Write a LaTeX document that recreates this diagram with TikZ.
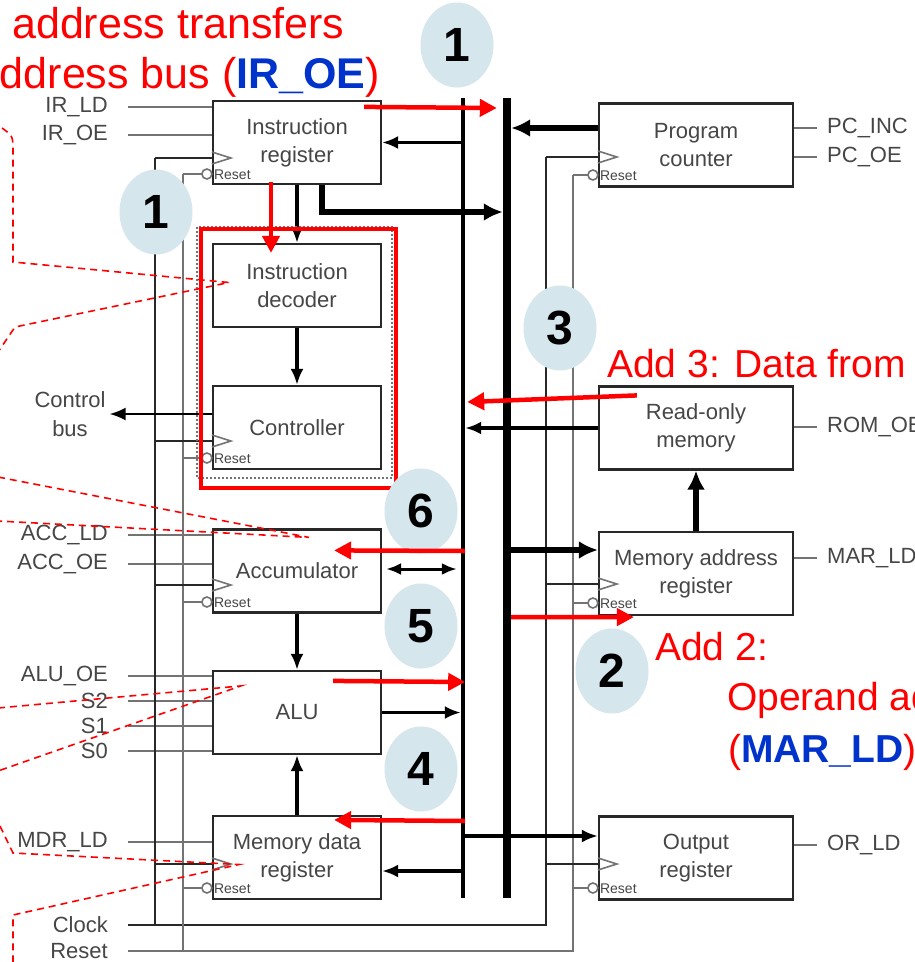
\documentclass[tikz,border=0pt]{standalone}
\usepackage{fontspec}
\setmainfont{Liberation Sans}
\usepackage{tikz}
\usetikzlibrary{arrows.meta, positioning, calc, shapes.geometric}
\definecolor{CpuRed}{RGB}{255, 0, 0}
\definecolor{CpuBlue}{RGB}{0, 51, 204}
\definecolor{CpuBubble}{RGB}{213, 230, 237}
\definecolor{CpuEdge}{RGB}{40, 40, 40}
\definecolor{CpuText}{RGB}{70, 70, 70}
\definecolor{CpuWire}{RGB}{115, 115, 115}
\tikzset{
  reg/.style={draw=CpuEdge, line width=2.2pt, fill=white, minimum width=168pt, minimum height=83pt,
    inner sep=0pt, align=center, text=CpuText, font=\fontsize{22}{28}\selectfont},
  wreg/.style={reg, minimum width=194pt},
  sig/.style={text=CpuText, inner sep=0pt, align=center, font=\fontsize{22}{29}\selectfont},
  rst/.style={text=CpuText, inner sep=0pt, font=\fontsize{14}{14}\selectfont},
  wire/.style={CpuWire, line width=1.6pt},
  clkwire/.style={CpuEdge, line width=2.6pt},
  busbar/.style={fill=black, inner sep=0pt, minimum height=800pt},
  arr/.style={black, line width=3.5pt, -{Latex[length=16pt,width=13pt]}},
  dblarr/.style={black, line width=3pt, {Latex[length=15pt,width=12pt]}-{Latex[length=15pt,width=12pt]},
    shorten <=4pt, shorten >=4pt},
  fatarr/.style={black, line width=6pt, -{Latex[length=19pt,width=18pt]}},
  redarr/.style={CpuRed, line width=4.5pt, -{Triangle[length=17pt,width=17pt]}},
  callout/.style={CpuRed, line width=1.6pt, dash pattern=on 7pt off 5pt},
  bubble/.style={ellipse, fill=CpuBubble, minimum width=73pt, minimum height=85pt, inner sep=0pt,
    font=\fontsize{48}{48}\selectfont\bfseries},
  note/.style={text=CpuRed, anchor=base west, inner sep=0pt, font=\fontsize{39}{48}\selectfont}
}
\begin{document}
\begin{tikzpicture}[x=1pt,y=-1pt]
  \path[use as bounding box] (0,0) rectangle (914,962);
  \clip (0,0) rectangle (914,962);
  \fill[white] (0,0) rectangle (914,962);

  \node[reg] (ir) at (297,142.5) {Instruction\\register};
  \node[reg] (dec) at (297,285.5) {Instruction\\decoder};
  \node[reg] (ctrl) at (297,427.5) {Controller};
  \node[reg] (acc) at (297,571) {Accumulator};
  \node[reg] (alu) at (297,712.5) {ALU};
  \node[reg] (mdr) at (297,857.5) {Memory data\\register};
  \node[wreg] (pc) at (696,145) {Program\\counter};
  \node[wreg] (rom) at (696,428) {Read-only\\memory};
  \node[wreg] (mar) at (696,573.5) {Memory address\\register};
  \node[wreg] (outr) at (696,858) {Output\\register};

  \node[busbar, minimum width=4pt] (dbus) at (463,498) {};
  \node[busbar, minimum width=8pt] (abus) at (507,498) {};

  \foreach \txt/\y/\reg in {IR\_LD/107/ir, IR\_OE/135/ir, ACC\_LD/535/acc, ACC\_OE/564/acc,
      ALU\_OE/676/alu, S2/701/alu, S1/726/alu, S0/751/alu, MDR\_LD/842/mdr} {
    \node[sig, anchor=east] (s\y) at (108,\y) {\txt};
    \draw[wire] ($(s\y.east)+(20,0)$) -- (\reg.west |- s\y);
  }
  \foreach \txt/\y/\reg in {PC\_INC/128/pc, PC\_OE/157/pc, ROM\_OE/427/rom, MAR\_LD/558/mar, OR\_LD/845/outr} {
    \node[sig, anchor=west] (t\y) at (827,\y) {\txt};
    \draw[wire] (\reg.east |- t\y) -- ($(t\y.west)+(-10,0)$);
  }

  \node[sig, anchor=east] (clk) at (108,925) {Clock};
  \node[sig, anchor=east] (rstin) at (108,951) {Reset};
  \draw[clkwire] ($(clk.east)+(20,0)$) -| (546,157);
  \draw[clkwire] (155,158) -- (155,925);
  \draw[wire] ($(rstin.east)+(20,0)$) -| (573,175);
  \draw[wire] (183,174) -- (183,951);
  \foreach \reg/\cx/\cy/\rx/\ry in {ir/155/158/183/174, ctrl/155/441/183/458, acc/155/585/183/602,
      mdr/155/864/183/888, pc/546/157/573/175, mar/546/584/573/603, outr/546/864/573/888} {
    \draw[clkwire] (\cx,\cy) -- (\reg.west |- 0,\cy);
    \draw[wire] ($(\reg.west |- 0,\cy)+(0,-6)$) -- ++(19,6) -- ++(-19,6);
    \draw[wire] (\rx,\ry) -- ($(\reg.west |- 0,\ry)+(-10,0)$);
    \draw[wire] ($(\reg.west |- 0,\ry)+(-5,0)$) circle (5pt);
    \node[rst, anchor=west] (r\reg) at ($(\reg.west |- 0,\ry)+(2,1)$) {Reset};
  }

  \node[sig] (cbus) at (70,414) {Control\\bus};
  \draw[arr, line width=2pt] (ctrl.west |- cbus.east) -- ([xshift=4pt]cbus.east);

  \draw[fatarr] (pc.west |- 0,128) -- (abus.east |- 0,128);
  \draw[arr] (dbus.west |- ir) -- (ir.east);
  \draw[fatarr] ($(ir.south)+(25,0)$) |- (abus.west |- 0,212);
  \draw[arr] (ir.south) -- (dec.north);
  \draw[arr] (dec) -- (ctrl);
  \draw[arr] (rom.west) -- (dbus.east |- rom);
  \draw[fatarr] (mar.north) -- (rom.south);
  \draw[fatarr] (abus.east |- 0,550) -- (mar.west |- 0,550);
  \draw[dblarr] (acc.east |- 0,569) -- (dbus.west |- 0,569);
  \draw[arr] (acc) -- (alu);
  \draw[arr] (alu.east) -- (dbus.west |- alu);
  \draw[arr] (mdr) -- (alu);
  \draw[arr] (dbus.west |- 0,871) -- (mdr.east |- 0,871);
  \draw[arr] (dbus |- 0,836) -- (outr.west |- 0,836);

  \draw[CpuWire, line width=2pt, dotted] (197,227) rectangle (392,478);
  \draw[CpuRed, line width=4.5pt] ($(dec.north west)+(-11,-14)$) rectangle ($(ctrl.south east)+(14,18)$);

  \draw[callout] (2,128) .. controls (13,136) .. (13,152) -- (13,262) -- ($(dec.west)+(17,-3)$) -- (15,327) -- (-2,352);
  \draw[callout] (-2,477) -- ($(acc.north west)+(97,9)$) -- (-2,521);
  \draw[callout] (-2,708) -- ($(alu.north west)+(29,16)$) -- (-2,771);
  \draw[callout] (0,826) -- (13,853) -- ($(mdr.west)+(27,7)$) -- (13,915) -- (13,964);

  \node[bubble] (n1a) at (457,45) {1};
  \node[bubble] (n1b) at (156,212) {1};
  \node[bubble] (n3) at (560,328) {3};
  \node[bubble] (n6) at (421,511) {6};
  \node[bubble] (n5) at (421,626) {5};
  \node[bubble] (n4) at (421,769) {4};
  \node[bubble] (n2) at (612,671) {2};

  \draw[redarr] ($(ir.north east)+(-18,7)$) -- ($(abus.west |- 0,108)+(-6,0)$);
  \draw[redarr] ($(ir.south)+(-26,-3)$) -- ($(dec.north)+(-26,10)$);
  \draw[redarr] ($(rom.north west)+(39,10)$) -- ($(dbus.east |- 0,402)+(2,0)$);
  \draw[redarr] (dbus.east |- 0,551) -- ($(acc.north east)+(-48,22)$);
  \draw[redarr] (abus.east |- 0,617) -- ($(mar.south west)+(36,1)$);
  \draw[redarr] ($(alu.north east)+(-49,11)$) -- (dbus.east |- 0,682);
  \draw[redarr] (dbus.east |- 0,821) -- ($(mdr.north east)+(-48,5)$);

  \node[note, font=\fontsize{43}{48}\selectfont] (a1) at (12,38) {address transfers};
  \node[note, font=\fontsize{43}{48}\selectfont] (a2) at (-29,88) {Address bus ({\color{CpuBlue}\bfseries IR\_OE})};
  \node[note] (a3) at (607,377) {Add 3: Data from};
  \node[note] (a4) at (655,660) {Add 2:};
  \node[note] (a5) at (727,710) {Operand address};
  \node[note] (a6) at (728,762) {({\color{CpuBlue}\bfseries MAR\_LD})};
\end{tikzpicture}
\end{document}
